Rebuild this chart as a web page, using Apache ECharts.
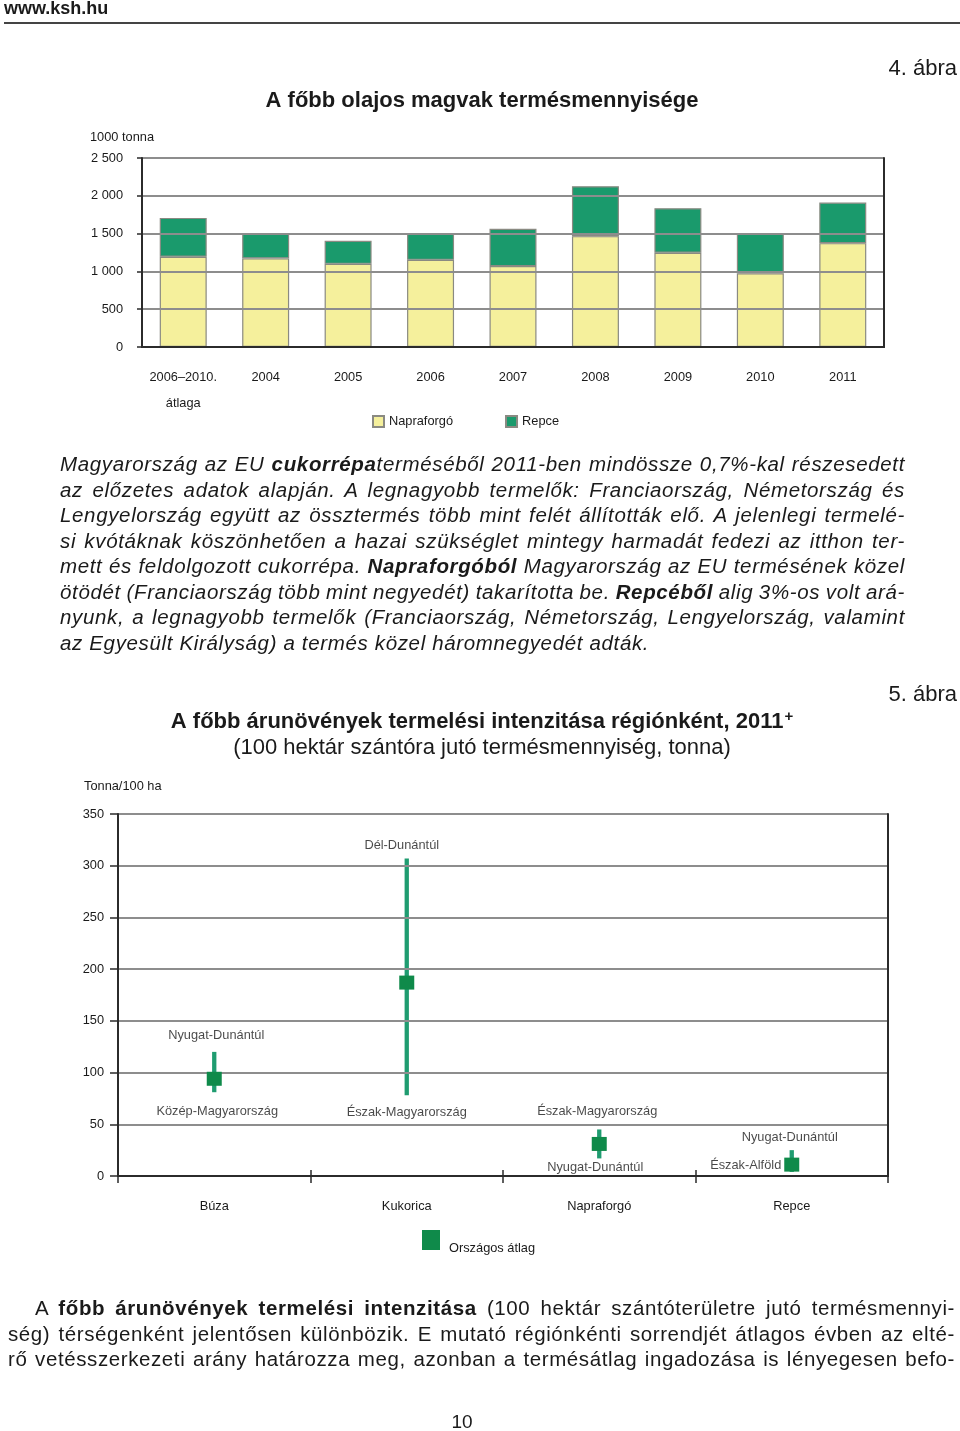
<!DOCTYPE html>
<html lang="hu">
<head>
<meta charset="utf-8">
<script src="https://cdn.jsdelivr.net/npm/echarts@6/dist/echarts.min.js"></script>
<style>
  html, body { margin:0; padding:0; background:#fff; }
  #page { position:relative; width:960px; height:1431px; overflow:hidden; }
  #chart { position:absolute; left:0; top:0; width:960px; height:1431px; }
  .para { position:absolute; font-family:'Liberation Sans', Arial, sans-serif; color:#1a1a1a; z-index:2; }
  .para div { height:25.5px; line-height:25.5px; white-space:nowrap; text-align:left; }
  #p1 { left:60px; top:451px; width:845px; font-size:20.5px; font-style:italic; letter-spacing:0.65px; }
  #p2 { left:8px; top:1295px; width:947px; font-size:20.5px; letter-spacing:0.6px; }
</style>
</head>
<body>
<div id="page">
  <div id="chart"></div>
  <div class="para" id="p1">
    <div class="j"><span>Magyarország az EU <b>cukorrépa</b>terméséből 2011-ben mindössze 0,7%-kal részesedett</span></div>
    <div class="j"><span>az előzetes adatok alapján. A legnagyobb termelők: Franciaország, Németország és</span></div>
    <div class="j"><span>Lengyelország együtt az össztermés több mint felét állították elő. A jelenlegi termelé-</span></div>
    <div class="j"><span>si kvótáknak köszönhetően a hazai szükséglet mintegy harmadát fedezi az itthon ter-</span></div>
    <div class="j"><span>mett és feldolgozott cukorrépa. <b>Napraforgóból</b> Magyarország az EU termésének közel</span></div>
    <div class="j"><span>ötödét (Franciaország több mint negyedét) takarította be. <b>Repcéből</b> alig 3%-os volt ará-</span></div>
    <div class="j"><span>nyunk, a legnagyobb termelők (Franciaország, Németország, Lengyelország, valamint</span></div>
    <div><span>az Egyesült Királyság) a termés közel háromnegyedét adták.</span></div>
  </div>
  <div class="para" id="p2">
    <div class="j" style="padding-left:27px"><span>A <b>főbb árunövények termelési intenzitása</b> (100 hektár szántóterületre jutó termésmennyi-</span></div>
    <div class="j"><span>ség) térségenként jelentősen különbözik. E mutató régiónkénti sorrendjét átlagos évben az elté-</span></div>
    <div class="j"><span>rő vetésszerkezeti arány határozza meg, azonban a termésátlag ingadozása is lényegesen befo-</span></div>
  </div>
</div>
<script>
// ---------- Chart 1 data: A főbb olajos magvak termésmennyisége (1000 tonna) ----------
const years = ['2006–2010.\nátlaga', '2004', '2005', '2006', '2007', '2008', '2009', '2010', '2011'];
const napraforgo = [1193, 1172, 1100, 1153, 1070, 1466, 1246, 974, 1374];
const repce = [515, 325, 304, 349, 493, 661, 590, 528, 537];
const series1Names = ['Napraforgó', 'Repce'];

// ---------- Chart 2 data: termelési intenzitás (tonna/100 ha) ----------
const crops = ['Búza', 'Kukorica', 'Napraforgó', 'Repce'];
const highs = [120, 307, 45, 25];
const lows = [81, 78, 17, 4];
const averages = [94, 187, 31, 11];
const maxRegions = ['Nyugat-Dunántúl', 'Dél-Dunántúl', 'Észak-Magyarország', 'Nyugat-Dunántúl'];
const minRegions = ['Közép-Magyarország', 'Észak-Magyarország', 'Nyugat-Dunántúl', 'Észak-Alföld'];
const avgName = 'Országos átlag';

// ---------- justify paragraph lines (fill each line to the column width) ----------
function justifyLines() {
  document.querySelectorAll('.para div.j').forEach(d => {
    const span = d.firstElementChild;
    span.style.wordSpacing = '0px';
    const cs = getComputedStyle(d);
    const target = d.clientWidth - parseFloat(cs.paddingLeft) - parseFloat(cs.paddingRight);
    const natural = span.getBoundingClientRect().width;
    const spaces = (span.textContent.match(/ /g) || []).length;
    if (spaces > 0) span.style.wordSpacing = ((target - natural) / spaces) + 'px';
  });
}
justifyLines();
if (document.fonts && document.fonts.ready) document.fonts.ready.then(justifyLines);

// ---------- styling ----------
const LBL = "'Liberation Sans', Arial, sans-serif";
const SANS = "'Liberation Sans', Arial, sans-serif";
const LS = 12.8;
const DARK = '#2b2b2b';
const GRID = '#8d8d8d';
const YELLOW = '#F5F09C';
const GREEN1 = '#1A9A6C';
const LINE2 = '#1F9C70';
const SQUARE2 = '#0F8A4A';

const thousands = v => String(v).replace(/\B(?=(\d{3})+(?!\d))/g, ' ');

// label style tweaks for chart 2 (distance/offset per category)
const topLabelStyle = [
  { distance: 9, offset: [2, 0] },
  { distance: 6, offset: [-5, 0] },
  { distance: 11, offset: [-2, 0] },
  { distance: 6, offset: [-2, 0] }
];
const bottomLabelStyle = [
  { position: 'bottom', distance: 12, offset: [3, 0] },
  { position: 'bottom', distance: 10, offset: [0, 0] },
  { position: 'bottom', distance: 2, offset: [-4, 0] },
  { position: 'left', distance: 10, offset: [0, -6] }
];

const chart = echarts.init(document.getElementById('chart'), null, { renderer: 'canvas' });

const txt = (text, x, y, size, opts = {}) => ({
  type: 'text', z: 10,
  style: Object.assign({
    text, x, y, fill: '#1a1a1a', fontSize: size, fontFamily: SANS,
    textAlign: 'left', textVerticalAlign: 'middle'
  }, opts)
});

const option = {
  animation: false,
  backgroundColor: '#ffffff',
  textStyle: { fontFamily: LBL },
  graphic: [
    txt('www.ksh.hu', 4, 9, 18, { fontWeight: 'bold' }),
    { type: 'line', z: 10, shape: { x1: 4, y1: 23, x2: 960, y2: 23 }, style: { stroke: '#444', lineWidth: 2 } },
    txt('4. ábra', 957, 69, 22, { textAlign: 'right' }),
    txt('A főbb olajos magvak termésmennyisége', 482, 101, 22, { textAlign: 'center', fontWeight: 'bold' }),
    txt('1000 tonna', 90, 137, LS),
    txt('5. ábra', 957, 695, 22, { textAlign: 'right' }),
    {
      type: 'text', z: 10,
      style: {
        x: 482, y: 722, textAlign: 'center', textVerticalAlign: 'middle',
        text: '{a|A főbb árunövények termelési intenzitása régiónként, 2011}{s|+}',
        rich: {
          a: { fontSize: 22, fontWeight: 'bold', fontFamily: SANS, fill: '#1a1a1a', color: '#1a1a1a' },
          s: { fontSize: 15, fontWeight: 'bold', fontFamily: SANS, fill: '#1a1a1a', color: '#1a1a1a', padding: [0, 0, 10, 1] }
        }
      }
    },
    txt('(100 hektár szántóra jutó termésmennyiség, tonna)', 482, 748, 22, { textAlign: 'center' }),
    txt('Tonna/100 ha', 84, 786, LS),
    txt('10', 462, 1423, 19, { textAlign: 'center' })
  ],
  legend: [
    {
      data: series1Names, left: 367, top: 410, itemWidth: 11, itemHeight: 11, itemGap: 52,
      textStyle: { fontFamily: LBL, fontSize: LS, color: '#1a1a1a' }, icon: 'rect'
    },
    {
      data: [avgName], left: 417, top: 1225, itemWidth: 18, itemHeight: 20, icon: 'rect',
      itemStyle: { color: SQUARE2, opacity: 1 },
      formatter: name => '{t|' + name + '}',
      textStyle: {
        fontFamily: LBL, fontSize: LS, color: '#1a1a1a',
        rich: { t: { fontFamily: LBL, fontSize: LS, color: '#1a1a1a', padding: [16, 0, 0, 4] } }
      }
    }
  ],
  grid: [
    { left: 142, top: 158, width: 742, height: 189 },
    { left: 118, top: 814, width: 770, height: 362 }
  ],
  xAxis: [
    { // 0: chart 1 categories
      type: 'category', gridIndex: 0, data: years, position: 'bottom', z: 4,
      axisLine: { lineStyle: { color: DARK, width: 2 } },
      axisTick: { show: false },
      axisLabel: { margin: 17, fontSize: LS, fontFamily: LBL, color: '#1a1a1a', lineHeight: 26, interval: 0 }
    },
    { // 1: chart 1 top frame
      type: 'category', gridIndex: 0, data: years, position: 'top', z: 4,
      axisLine: { lineStyle: { color: DARK, width: 2 } },
      axisTick: { show: false }, axisLabel: { show: false }
    },
    { // 2: chart 2 categories
      type: 'category', gridIndex: 1, data: crops, position: 'bottom', z: 4,
      axisLine: { lineStyle: { color: DARK, width: 2 } },
      axisTick: { show: true, length: 7, lineStyle: { color: DARK, width: 1.5 } },
      axisLabel: { margin: 24, fontSize: LS, fontFamily: LBL, color: '#1a1a1a' }
    },
    { // 3: chart 2 top frame
      type: 'category', gridIndex: 1, data: crops, position: 'top', z: 4,
      axisLine: { lineStyle: { color: DARK, width: 2 } },
      axisTick: { show: false }, axisLabel: { show: false }
    },
    { // 4: chart 2 inner ticks
      type: 'category', gridIndex: 1, data: crops, position: 'bottom', z: 4,
      axisLine: { show: false },
      axisTick: { show: true, inside: true, length: 6, lineStyle: { color: DARK, width: 1.5 } },
      axisLabel: { show: false }
    }
  ],
  yAxis: [
    { // 0: chart 1 values
      type: 'value', gridIndex: 0, min: 0, max: 2500, interval: 500, position: 'left', z: 4,
      axisLine: { show: true, lineStyle: { color: DARK, width: 2 } },
      axisTick: { show: true, length: 5, lineStyle: { color: DARK, width: 1.5 } },
      splitLine: { show: true, lineStyle: { color: GRID, width: 2 } },
      axisLabel: { margin: 19, fontSize: LS, fontFamily: LBL, color: '#1a1a1a', formatter: thousands }
    },
    { // 1: chart 1 right frame
      type: 'value', gridIndex: 0, min: 0, max: 2500, interval: 500, position: 'right', z: 4,
      axisLine: { show: true, lineStyle: { color: DARK, width: 2 } },
      axisTick: { show: false }, axisLabel: { show: false }, splitLine: { show: false }
    },
    { // 2: chart 2 values
      type: 'value', gridIndex: 1, min: 0, max: 350, interval: 50, position: 'left', z: 4,
      axisLine: { show: true, lineStyle: { color: DARK, width: 2 } },
      axisTick: { show: true, length: 8, lineStyle: { color: DARK, width: 1.5 } },
      splitLine: { show: true, lineStyle: { color: GRID, width: 2 } },
      axisLabel: { margin: 14, fontSize: LS, fontFamily: LBL, color: '#1a1a1a' }
    },
    { // 3: chart 2 right frame
      type: 'value', gridIndex: 1, min: 0, max: 350, interval: 50, position: 'right', z: 4,
      axisLine: { show: true, lineStyle: { color: DARK, width: 2 } },
      axisTick: { show: false }, axisLabel: { show: false }, splitLine: { show: false }
    }
  ],
  series: [
    {
      name: series1Names[0], type: 'bar', stack: 'total', xAxisIndex: 0, yAxisIndex: 0,
      data: napraforgo, barWidth: '57%',
      itemStyle: { color: YELLOW, borderColor: '#8a8a82', borderWidth: 1.2 }
    },
    {
      name: series1Names[1], type: 'bar', stack: 'total', xAxisIndex: 0, yAxisIndex: 0,
      data: repce, barWidth: '57%',
      itemStyle: { color: GREEN1, borderColor: '#8a8a82', borderWidth: 1.2 }
    },
    {
      name: 'range', type: 'custom', xAxisIndex: 2, yAxisIndex: 2, z: 3,
      data: crops.map((c, i) => [i, lows[i], highs[i]]),
      encode: { x: 0, y: [1, 2] },
      renderItem: (params, api) => {
        const i = api.value(0);
        const lo = api.coord([i, api.value(1)]);
        const hi = api.coord([i, api.value(2)]);
        return {
          type: 'line',
          shape: { x1: lo[0], y1: lo[1], x2: hi[0], y2: hi[1] },
          style: { stroke: LINE2, lineWidth: 4.3 }
        };
      }
    },
    {
      name: 'max', type: 'scatter', xAxisIndex: 2, yAxisIndex: 2, symbolSize: 1, z: 6,
      itemStyle: { color: 'rgba(0,0,0,0)' },
      data: highs.map((v, i) => ({
        value: [i, v],
        label: Object.assign({ show: true, position: 'top', formatter: maxRegions[i] }, topLabelStyle[i])
      })),
      label: { fontFamily: LBL, fontSize: LS, color: '#1a1a1a' }
    },
    {
      name: 'min', type: 'scatter', xAxisIndex: 2, yAxisIndex: 2, symbolSize: 1, z: 6,
      itemStyle: { color: 'rgba(0,0,0,0)' },
      data: lows.map((v, i) => ({
        value: [i, v],
        label: Object.assign({ show: true, formatter: minRegions[i] }, bottomLabelStyle[i])
      })),
      label: { fontFamily: LBL, fontSize: LS, color: '#1a1a1a' }
    },
    {
      name: avgName, type: 'scatter', xAxisIndex: 2, yAxisIndex: 2, z: 5,
      symbol: 'rect', symbolSize: [15, 14],
      itemStyle: { color: SQUARE2, opacity: 1 },
      data: averages.map((v, i) => [i, v])
    }
  ]
};
chart.setOption(option);
</script>
</body>
</html>
